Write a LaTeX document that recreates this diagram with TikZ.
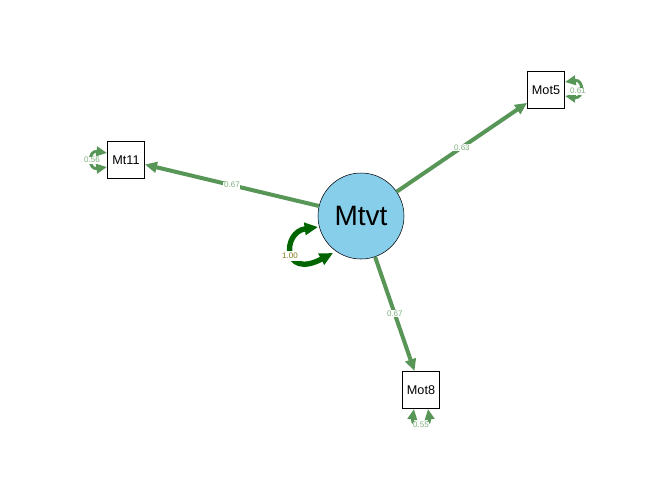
\documentclass[tikz,border=0pt]{standalone}
\usepackage{fontspec}
\setmainfont{Liberation Sans}
\usetikzlibrary{arrows.meta}
\definecolor{edgecol}{RGB}{88,150,88}
\definecolor{labcol}{RGB}{125,175,125}
\definecolor{loopcol}{RGB}{0,100,0}
\definecolor{looplab}{RGB}{130,125,20}
\definecolor{latfill}{RGB}{135,206,235}
\begin{document}
\begin{tikzpicture}[x=0.75pt,y=-0.75pt,
  latent/.style={circle,draw=black,fill=latfill,minimum size=64.5pt,inner sep=0pt,font=\fontsize{21}{21}\selectfont},
  manifest/.style={rectangle,draw=black,fill=white,minimum size=28pt,inner sep=0pt,font=\fontsize{9.5}{9.5}\selectfont},
  loadedge/.style={draw=edgecol,line width=3pt,-{Triangle[length=9pt,width=8pt]}},
  edgelab/.style={fill=white,inner sep=0.5pt,text=labcol,font=\fontsize{6}{6}\selectfont},
  resid/.style={draw=edgecol,line width=2.2pt,{Triangle[length=8pt,width=7pt]}-{Triangle[length=8pt,width=7pt]}},
  latloop/.style={draw=loopcol,line width=4pt,{Triangle[length=10pt,width=9pt]}-{Triangle[length=10pt,width=9pt]}},
]
\useasboundingbox (0,0) rectangle (672,480);
\node[latent] (L) at (361,216) {Mtvt};
\node[manifest] (M11) at (126,160) {Mt11};
\node[manifest] (M5) at (546,90) {Mot5};
\node[manifest] (M8) at (421,390) {Mot8};

\draw[loadedge] (L) -- node[edgelab,pos=0.5]{0.67} (M11);
\draw[loadedge] (L) -- node[edgelab,pos=0.5]{0.63} (M5);
\draw[loadedge] (L) -- node[edgelab,pos=0.5]{0.67} (M8);

% residual variances
\coordinate (a1) at (107,153); \coordinate (a2) at (107,167);
\draw[resid] (a1) .. controls (88,150) and (88,170) .. (a2);
\node[edgelab] (v11) at (92,160) {0.56};
\coordinate (b1) at (565,82); \coordinate (b2) at (565,96);
\draw[resid] (b1) .. controls (584,79) and (584,99) .. (b2);
\node[edgelab] (v5) at (578,91) {0.61};
\coordinate (c1) at (414,409); \coordinate (c2) at (428,409);
\draw[resid] (c1) .. controls (411,428) and (431,428) .. (c2);
\node[edgelab] (v8) at (421,425) {0.55};

% latent variance
\coordinate (d1) at (318,227); \coordinate (d2) at (333,253);
\draw[latloop] (d1) .. controls (282,232) and (282,280) .. (d2);
\node[fill=white,inner sep=1.5pt,text=looplab,font=\fontsize{6}{6}\selectfont] (vl) at (290,256) {1.00};
\end{tikzpicture}
\end{document}
